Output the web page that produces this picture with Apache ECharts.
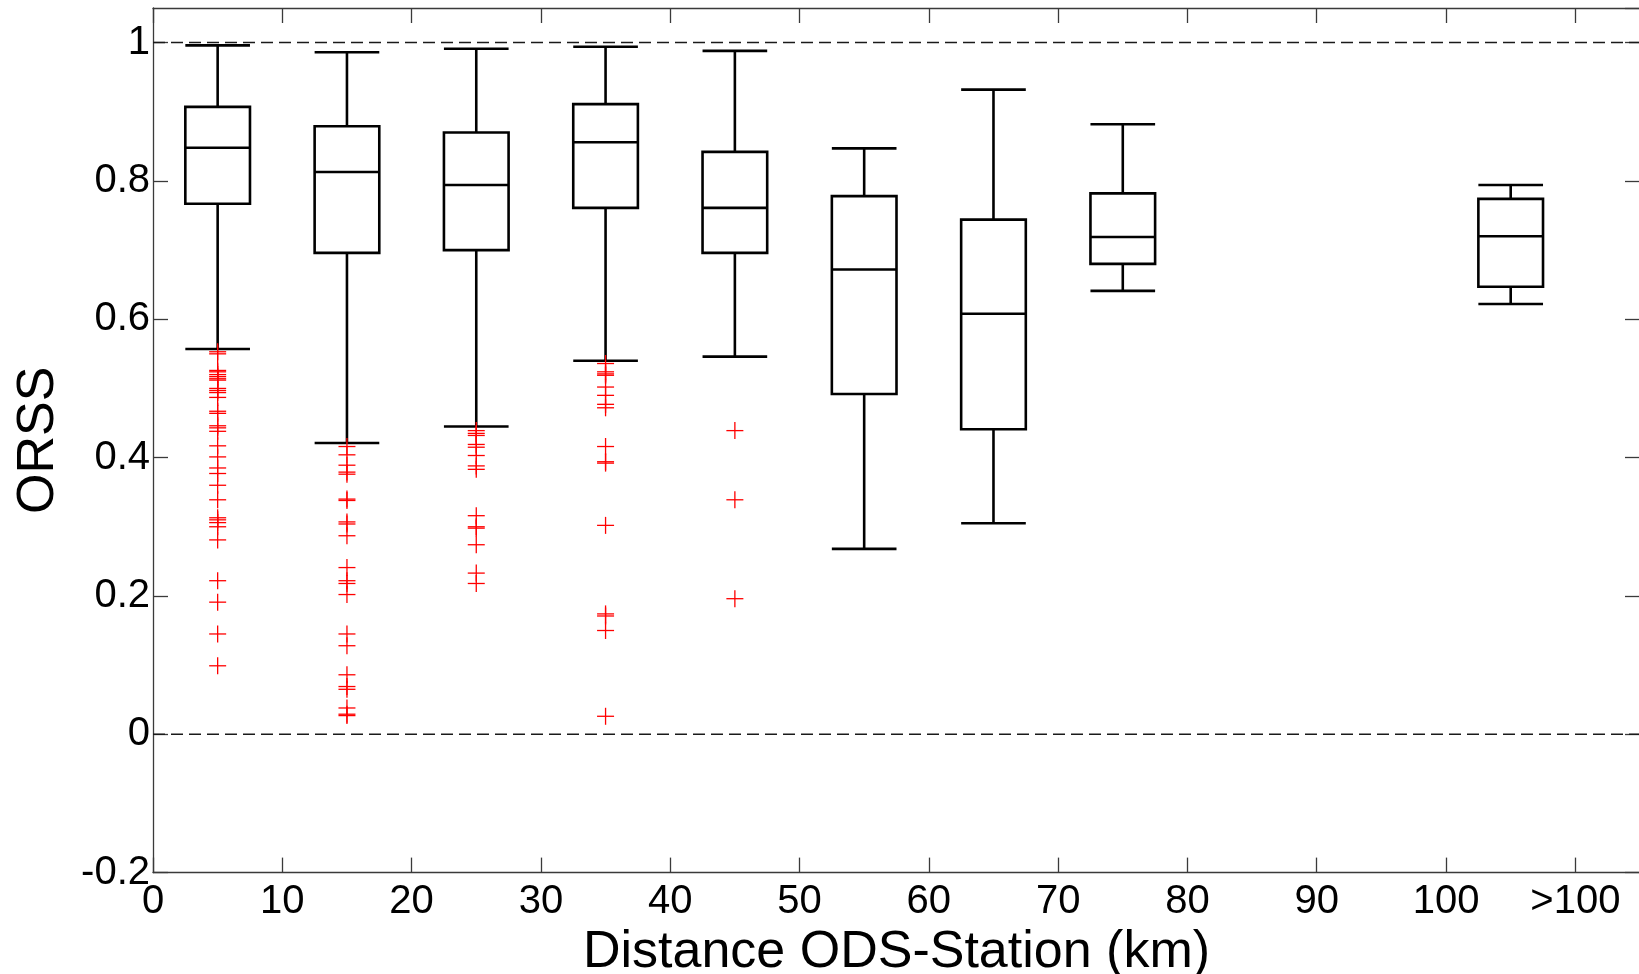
<!DOCTYPE html>
<html><head><meta charset="utf-8">
<script src="https://cdn.jsdelivr.net/npm/echarts@6/dist/echarts.min.js"></script>
<style>html,body{margin:0;padding:0;background:#fff}#c{width:1639px;height:974px}</style>
</head><body><div id="c"></div>
<script>
// ---- data ----
const positions   = [5, 15, 25, 35, 45, 55, 65, 75, 105];
const whiskerHigh = [0.996, 0.986, 0.991, 0.994, 0.988, 0.847, 0.932, 0.882, 0.794];
const q3          = [0.907, 0.879, 0.870, 0.911, 0.842, 0.778, 0.744, 0.782, 0.774];
const medians     = [0.848, 0.813, 0.794, 0.856, 0.761, 0.672, 0.608, 0.719, 0.720];
const q1          = [0.767, 0.696, 0.700, 0.761, 0.696, 0.492, 0.441, 0.680, 0.647];
const whiskerLow  = [0.557, 0.421, 0.445, 0.540, 0.546, 0.268, 0.305, 0.641, 0.622];

const outliersAt5  = [0.553, 0.550, 0.526, 0.524, 0.520, 0.517, 0.514, 0.512, 0.500, 0.497, 0.494, 0.487, 0.467, 0.464, 0.446, 0.443, 0.438, 0.417, 0.401, 0.385, 0.377, 0.360, 0.339, 0.313, 0.310, 0.306, 0.300, 0.281, 0.222, 0.191, 0.145, 0.099];
const outliersAt15 = [0.416, 0.404, 0.389, 0.379, 0.376, 0.340, 0.338, 0.307, 0.304, 0.287, 0.241, 0.222, 0.218, 0.202, 0.145, 0.128, 0.086, 0.069, 0.065, 0.038, 0.029, 0.027];
const outliersAt25 = [0.439, 0.435, 0.432, 0.419, 0.415, 0.403, 0.388, 0.383, 0.316, 0.300, 0.298, 0.274, 0.233, 0.218];
const outliersAt35 = [0.536, 0.524, 0.521, 0.519, 0.502, 0.490, 0.477, 0.472, 0.416, 0.394, 0.392, 0.302, 0.174, 0.171, 0.150, 0.026];
const outliersAt45 = [0.439, 0.339, 0.196];

const refLevels = [0, 1];

const xTickValues = [0, 10, 20, 30, 40, 50, 60, 70, 80, 90, 100, 110];
const xTickLabels = ['0', '10', '20', '30', '40', '50', '60', '70', '80', '90', '100', '>100'];
const yTickValues = [-0.2, 0, 0.2, 0.4, 0.6, 0.8, 1];
const yTickLabels = ['-0.2', '0', '0.2', '0.4', '0.6', '0.8', '1'];

// ---- build ----
const boxData = positions.map((p, i) => [p, whiskerLow[i], q1[i], medians[i], q3[i], whiskerHigh[i]]);
const outlierGroups = [[5, outliersAt5], [15, outliersAt15], [25, outliersAt25], [35, outliersAt35], [45, outliersAt45]];
const outlierData = [];
outlierGroups.forEach(([p, arr]) => arr.forEach(v => outlierData.push([p, v])));

const FONT = '"Liberation Sans", Arial, sans-serif';
const X_MIN = 0, X_MAX = 115, Y_MIN = -0.2, Y_MAX = 1.05;
const HALF_BOX = 2.5;
const spine = { color: '#3a3a3a', width: 1.3 };

function lookup(values, labels, v) {
  for (let i = 0; i < values.length; i++) if (Math.abs(values[i] - v) < 1e-6) return labels[i];
  return '';
}

function renderBox(params, api) {
  const x = api.value(0);
  const lo = api.value(1), a = api.value(2), m = api.value(3), b = api.value(4), hi = api.value(5);
  const L = (v) => api.coord([x - HALF_BOX, v]);
  const R = (v) => api.coord([x + HALF_BOX, v]);
  const C = (v) => api.coord([x, v]);
  const st = { stroke: '#000', lineWidth: 2.6, fill: null };
  const line = (p1, p2) => ({ type: 'line', shape: { x1: p1[0], y1: p1[1], x2: p2[0], y2: p2[1] }, style: st });
  const tl = L(b), br = R(a);
  return {
    type: 'group',
    children: [
      line(C(hi), C(b)),
      line(C(a), C(lo)),
      line(L(hi), R(hi)),
      line(L(lo), R(lo)),
      { type: 'rect', shape: { x: tl[0], y: tl[1], width: br[0] - tl[0], height: br[1] - tl[1] }, style: { stroke: '#000', lineWidth: 2.6, fill: 'rgba(0,0,0,0)' } },
      line(L(m), R(m))
    ]
  };
}

function renderPlus(params, api) {
  const c = api.coord([api.value(0), api.value(1)]);
  const h = 8.5;
  const st = { stroke: '#ff0000', lineWidth: 1.3 };
  return {
    type: 'group',
    children: [
      { type: 'line', shape: { x1: c[0] - h, y1: c[1], x2: c[0] + h, y2: c[1] }, style: st },
      { type: 'line', shape: { x1: c[0], y1: c[1] - h, x2: c[0], y2: c[1] + h }, style: st }
    ]
  };
}

const chart = echarts.init(document.getElementById('c'), null, { renderer: 'canvas' });
const axisCommon = {
  type: 'value',
  axisLine: { show: true, onZero: false, lineStyle: spine },
  axisTick: { show: true, inside: true, length: 15, lineStyle: spine },
  splitLine: { show: false }
};

const series = [];
refLevels.forEach(level => {
  series.push({
    type: 'line', xAxisIndex: 0, yAxisIndex: 0, silent: true, symbol: 'none',
    data: [[X_MIN, level], [X_MAX, level]],
    lineStyle: { color: '#1a1a1a', width: 1.5, type: [12, 6] }, z: 1
  });
});
series.push({ type: 'custom', xAxisIndex: 0, yAxisIndex: 0, renderItem: renderBox, data: boxData, z: 3, silent: true });
series.push({ type: 'custom', xAxisIndex: 0, yAxisIndex: 0, renderItem: renderPlus, data: outlierData, z: 4, silent: true });

chart.setOption({
  animation: false,
  backgroundColor: '#fff',
  grid: { left: 153, right: -1, top: 8, bottom: 101.4, containLabel: false, outerBoundsMode: 'none' },
  xAxis: [
    Object.assign({}, axisCommon, {
      min: X_MIN, max: X_MAX, interval: 10, position: 'bottom',
      axisLabel: { show: true, fontSize: 40, color: '#000', fontFamily: FONT, margin: 9.5,
        formatter: v => lookup(xTickValues, xTickLabels, v), showMaxLabel: false },
      name: 'Distance ODS-Station (km)', nameLocation: 'middle', nameGap: 48,
      nameTextStyle: { fontSize: 52, color: '#000', fontFamily: FONT }
    }),
    Object.assign({}, axisCommon, {
      min: X_MIN, max: X_MAX, interval: 10, position: 'top',
      axisLabel: { show: false }
    })
  ],
  yAxis: [
    Object.assign({}, axisCommon, {
      min: Y_MIN, max: Y_MAX, interval: 0.2, position: 'left',
      axisLabel: { show: true, fontSize: 40, color: '#000', fontFamily: FONT, margin: 3,
        formatter: v => lookup(yTickValues, yTickLabels, v), showMaxLabel: false },
      name: 'ORSS', nameLocation: 'middle', nameGap: 88.5, nameRotate: 90,
      nameTextStyle: { fontSize: 52, color: '#000', fontFamily: FONT }
    }),
    Object.assign({}, axisCommon, {
      min: Y_MIN, max: Y_MAX, interval: 0.2, position: 'right',
      axisLabel: { show: false }
    })
  ],
  series: series
});
</script>
</body></html>
